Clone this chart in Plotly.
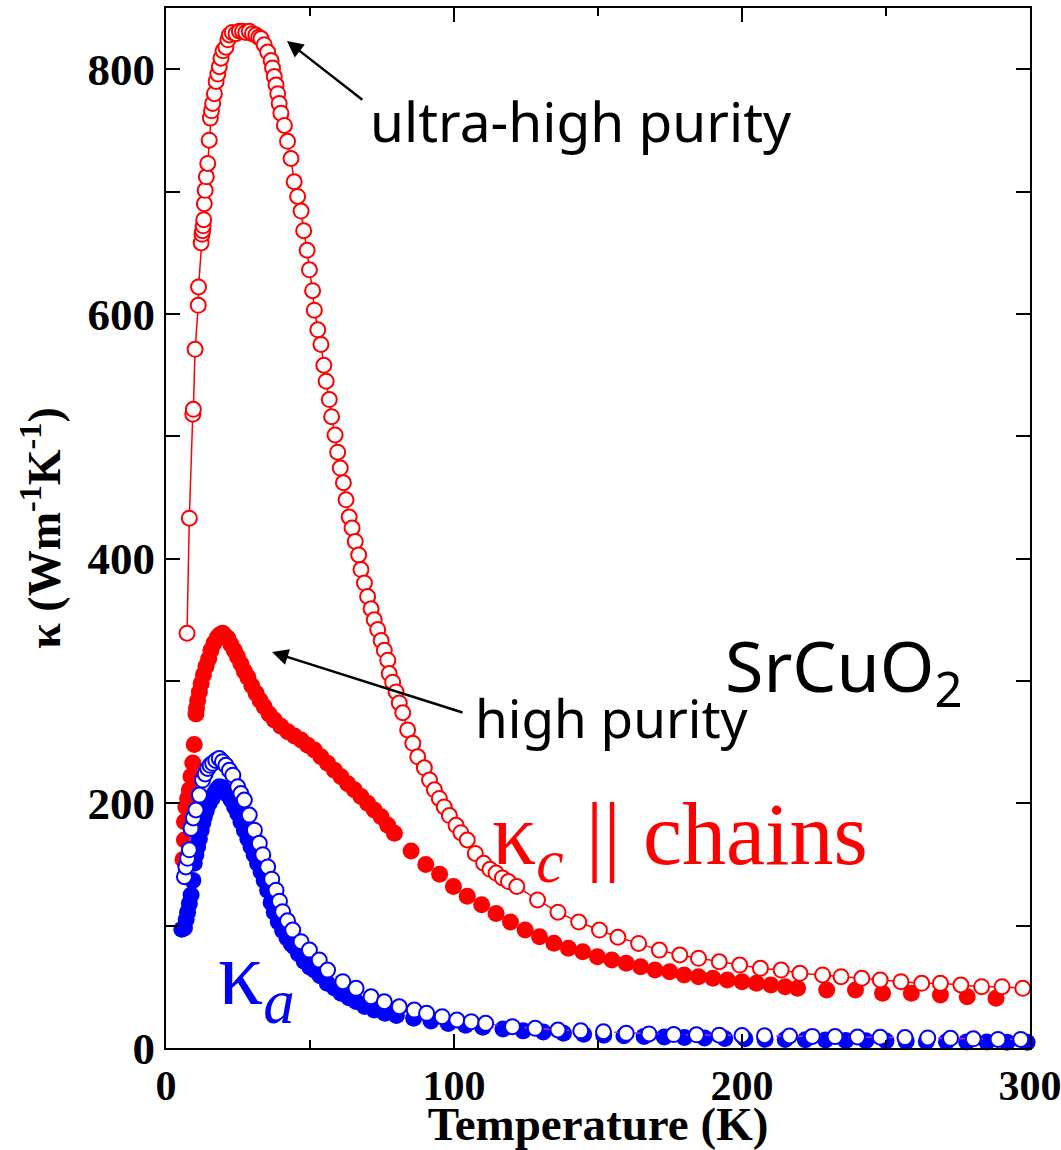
import plotly.graph_objects as go

# ---- ultra-high purity, kappa_c (open red, with line)
T_uhp = [7.3, 8.1, 9.3, 9.5, 10.1, 11.2, 11.3, 12.2, 12.5, 12.7, 12.9, 13.1, 13.3, 13.6, 14.0, 14.5,
         15.0, 15.4, 15.8, 16.2, 16.8, 17.4, 18.0, 18.5, 19.1, 19.8, 20.8, 21.5, 22.0, 23.0, 24.3,
         25.5, 26.6, 27.7, 28.9, 30.0, 31.2, 32.2, 33.0, 34.1, 35.3, 36.5, 37.0, 37.6, 38.2, 38.8,
         39.3, 39.9, 41.1, 42.2, 43.4, 44.5, 45.7, 46.9, 47.8, 49.0, 49.8, 50.9, 51.5, 52.7, 53.8,
         54.8, 55.6, 56.7, 57.5, 58.7, 59.6, 60.5, 61.6, 62.5, 63.6, 64.6, 65.7, 66.9, 67.7, 68.9,
         70.0, 71.2, 72.3, 73.5, 74.7, 75.8, 77.0, 77.5, 78.7, 79.9, 81.0, 82.2, 83.9, 85.7, 87.4,
         89.7, 91.5, 93.2, 94.9, 96.6, 98.4, 100.7, 102.4, 104.6, 107.4, 110.3, 112.5, 114.6, 116.8,
         118.9, 121.8, 129.0, 136.1, 143.3, 150.5, 156.9, 164.1, 171.3, 178.4, 184.9, 192.1, 199.2,
         206.4, 213.6, 220.1, 228.0, 234.4, 241.6, 248.0, 255.2, 262.4, 268.9, 276.0, 283.2, 290.3,
         297.5]
K_uhp = [339, 433, 518, 522, 571, 607, 622, 658, 665, 668, 672, 677, 690, 701, 712, 723,
         742, 760, 766, 772, 780, 790, 796, 802, 809, 815, 818, 824, 828, 830, 829,
         831, 831, 830, 831, 829, 828, 826, 825, 820, 814, 807, 801, 794, 787, 780,
         772, 764, 754, 741, 727, 708, 696, 684, 668, 652, 636, 619, 603, 587, 575,
         558, 545, 530, 516, 501, 487, 474, 462, 448, 434, 425, 414, 403, 391, 380,
         369, 359, 350, 342, 333, 325, 317, 306, 299, 291, 282, 274, 260, 249, 238,
         229, 219, 211, 204, 197, 190, 182, 176, 170, 159, 151, 146, 143, 139,
         136, 132, 121, 111, 103, 96.4, 90.5, 85.5, 80, 76, 73.3, 70.5, 67.8,
         65.1, 63.7, 61, 59.7, 58.3, 57, 55.6, 54.2, 52.9, 52.9, 51.5, 50.1, 50.1,
         48.8]

# ---- high purity, kappa_c (filled red)
T_hp = [5.9, 6.4, 6.4, 6.9, 7.5, 8.1, 8.7, 9.3, 9.8, 10.4, 10.6, 11.0, 11.6, 12.2, 13.0, 13.9,
        14.8, 15.6, 16.7, 17.9, 18.8, 19.7, 20.5, 21.4, 22.5, 23.7, 24.8, 26.0, 27.2, 28.4, 29.8,
        31.3, 32.7, 34.1, 35.8, 37.6, 39.9, 42.3, 44.6, 46.9, 49.2, 51.5, 53.8, 56.1, 58.5, 60.8,
        63.1, 65.4, 67.7, 70.0, 72.3, 74.7, 77.0, 79.3, 85.1, 90.2, 95.0, 99.8, 104.6, 109.6,
        114.6, 119.6, 124.7, 129.7, 134.7, 139.7, 144.7, 149.8, 154.8, 159.8, 164.8, 169.8, 174.9,
        179.9, 184.9, 189.9, 194.9, 200.0, 205.0, 210.0, 215.0, 219.3, 229.4, 239.4, 248.8, 258.8,
        268.9, 278.2, 288.2]
K_hp = [154, 170, 185, 197, 204, 211, 222, 233, 248, 273, 278, 284, 291, 298, 305, 312,
        318, 325, 331, 336, 338, 339, 337, 335, 330, 325, 320, 314, 308, 303, 296,
        290, 284, 279, 273, 268, 263, 258.5, 255, 251.7, 247.5, 243.5, 238, 232.7, 227, 221.7,
        216, 211, 205.5, 200, 194.5, 189, 182, 175.5, 161, 150, 142, 132, 124, 117,
        110, 103, 96.4, 91, 85.6, 81.5, 78.7, 74.6, 71.9, 69.2, 66.4, 63.7, 62.4,
        59.7, 58.3, 57, 55.6, 54.2, 52.9, 51.5, 50.1, 48.8, 47.4, 47.4, 44.7, 44.7,
        43.3, 41.9, 40.6]

# ---- kappa_a, filled blue
T_af = [5.5, 6.4, 7.0, 7.5, 8.1, 8.7, 9.3, 9.8, 10.4, 11.0, 11.6, 12.2, 12.8, 13.3, 14.0, 15.0,
        16.0, 16.8, 17.6, 18.5, 19.4, 20.2, 21.4, 22.6, 23.8, 24.9, 26.0, 27.2, 28.4, 29.5, 30.6,
        31.8, 33.0, 34.1, 35.3, 36.5, 37.6, 39.0, 40.5, 42.0, 43.5, 44.5, 46.0, 48.0, 50.0, 51.5,
        53.5, 56.0, 58.5, 60.8, 63.5, 66.0, 69.0, 72.3, 76.0, 80.0, 86.0, 92.0, 98.0, 104.0, 110.0,
        117.0, 124.0, 131.0, 138.0, 145.0, 152.0, 159.0, 166.0, 173.0, 180.0, 187.0, 194.0, 201.0,
        208.0, 215.0, 222.0, 229.0, 236.0, 243.0, 250.0, 257.0, 264.0, 271.0, 278.0, 285.0, 292.0,
        299.0]
K_af = [97, 98, 105, 111, 118, 125, 137, 151, 158, 164.5, 171, 178, 184, 189, 194, 200,
        204, 208, 211, 213.5, 213, 210.8, 207, 202.7, 197, 191.8, 185, 178, 171, 164.5, 158,
        151, 144, 137, 129, 119, 111, 103, 96, 90, 85, 82.8, 77, 71, 66, 63.7,
        59, 53, 49, 44.7, 41, 38, 34, 31, 28.5, 26.5, 24.3, 22, 20, 18.5, 17,
        15.5, 14, 13, 12, 11.2, 10.5, 10, 9.5, 9, 8.6, 8.2, 7.8, 7.5,
        7.2, 7, 6.7, 6.5, 6.2, 6, 5.8, 5.6, 5.4, 5.2, 5, 4.9, 4.8,
        4.7]

# ---- kappa_a, open blue
T_ao = [6.4, 6.9, 7.5, 8.1, 8.7, 9.5, 10.4, 11.6, 12.7, 13.6, 14.5, 15.3, 16.2, 17.3, 18.5, 19.6,
        20.8, 22.0, 23.2, 24.9, 26.0, 27.2, 28.9, 30.7, 32.4, 33.6, 35.3, 36.7, 38.2, 39.4, 40.5,
        42.2, 44.0, 46.9, 49.8, 53.2, 56.1, 61.4, 66.0, 71.2, 75.8, 81.0, 86.2, 90.5, 95.9, 101.0,
        106.0, 111.0, 120.3, 128.2, 136.1, 144.0, 151.9, 159.8, 167.7, 176.3, 184.2, 192.1, 200.0,
        207.8, 216.5, 224.4, 232.3, 240.1, 248.0, 256.6, 264.5, 272.4, 280.3, 288.9, 296.8]
K_ao = [140, 148, 155, 162, 179.5, 188, 194.5, 206.7, 219, 224, 228.5, 231, 232.7, 235, 236.7, 234,
        231, 227, 223, 213.5, 208, 202.7, 190.4, 178, 167.3, 158, 148, 138, 129, 120, 111.4,
        104, 96.4, 86.9, 80, 71.9, 63.7, 54.2, 48.8, 41.9, 37.8, 33.7, 31, 28.3, 25.6, 22.9,
        21.5, 20.2, 17.4, 16.1, 14.7, 14, 13.3, 12, 11.5, 11, 10.8, 10.5, 10.2,
        10, 9.8, 9.5, 9.3, 9, 8.8, 8.5, 8.2, 7.9, 7.5, 7, 7]

x_ticks = [0, 100, 200, 300]
y_ticks = [0, 200, 400, 600, 800]

RED = "rgb(255,0,0)"
BLUE = "rgb(0,0,255)"
SERIF = "Liberation Serif"
SANS = "Noto Sans"

fig = go.Figure()
fig.add_trace(go.Scatter(x=T_hp, y=K_hp, mode="markers", cliponaxis=False,
                         marker=dict(size=17, color=RED, line=dict(width=0)), name="high purity"))
fig.add_trace(go.Scatter(x=T_uhp, y=K_uhp, mode="lines+markers", cliponaxis=False,
                         line=dict(color=RED, width=1.5),
                         marker=dict(size=15, color="white", line=dict(color=RED, width=2)),
                         name="ultra-high purity"))
fig.add_trace(go.Scatter(x=T_af, y=K_af, mode="markers", cliponaxis=False,
                         marker=dict(size=17, color=BLUE, line=dict(width=0)), name="kappa_a filled"))
fig.add_trace(go.Scatter(x=T_ao, y=K_ao, mode="lines+markers", cliponaxis=False,
                         line=dict(color="rgb(190,50,210)", width=1.5, dash="dash"),
                         marker=dict(size=15, color="white", line=dict(color=BLUE, width=2)),
                         name="kappa_a open"))

anns = [
    dict(x=70.2, y=758, text="ultra-high purity", showarrow=False, xanchor="left", yanchor="middle",
         font=dict(family=SANS, size=55, color="black")),
    dict(x=106.6, y=270.5, text="high purity", showarrow=False, xanchor="left", yanchor="middle",
         font=dict(family=SANS, size=53, color="black")),
    dict(x=193.5, y=310, text="SrCuO<sub>2</sub>", showarrow=False, xanchor="left", yanchor="middle",
         font=dict(family=SANS, size=70, color="black")),
    dict(x=112.5, y=170, text="κ<sub><i>c</i></sub> || chains", showarrow=False, xanchor="left",
         yanchor="middle", font=dict(family=SERIF, size=88, color=RED)),
    dict(x=17.4, y=55, text="κ<sub><i>a</i></sub>", showarrow=False, xanchor="left",
         yanchor="middle", font=dict(family=SERIF, size=90, color=BLUE)),
    dict(x=42, y=823, ax=68.7, ay=774, xref="x", yref="y", axref="x", ayref="y", text="",
         showarrow=True, arrowhead=2, arrowsize=1.3, arrowwidth=2.5, arrowcolor="black"),
    dict(x=36.8, y=323.6, ax=103.5, ay=273.8, xref="x", yref="y", axref="x", ayref="y", text="",
         showarrow=True, arrowhead=2, arrowsize=1.3, arrowwidth=2.5, arrowcolor="black"),
]

fig.update_layout(
    width=1061, height=1150,
    margin=dict(l=166, r=31, t=8, b=102, autoexpand=False),
    paper_bgcolor="white", plot_bgcolor="white",
    showlegend=False,
    annotations=anns,
)
fig.update_xaxes(range=[0, 300], tickvals=x_ticks, ticktext=[str(v) for v in x_ticks],
                 ticklabeloverflow="allow", automargin=False,
                 ticks="inside", ticklen=14, tickwidth=1.5, tickcolor="black",
                 minor=dict(dtick=50, ticks="inside", ticklen=8, tickwidth=1.5, tickcolor="black"),
                 showline=True, linecolor="black", linewidth=2, mirror="ticks",
                 showgrid=False, zeroline=False,
                 tickfont=dict(family=SERIF, size=42, color="black", weight="bold"),
                 title=dict(text="Temperature (K)", standoff=8,
                            font=dict(family=SERIF, size=47, color="black", weight="bold")))
fig.update_yaxes(range=[0, 850], tickvals=y_ticks, ticktext=[str(v) for v in y_ticks],
                 automargin=False,
                 ticks="inside", ticklen=14, tickwidth=1.5, tickcolor="black",
                 minor=dict(dtick=100, ticks="inside", ticklen=14, tickwidth=1.5, tickcolor="black"),
                 showline=True, linecolor="black", linewidth=2, mirror="ticks",
                 showgrid=False, zeroline=False,
                 tickfont=dict(family=SERIF, size=45, color="black", weight="bold"),
                 title=dict(text="κ (Wm<sup>-1</sup>K<sup>-1</sup>)", standoff=12,
                            font=dict(family=SERIF, size=46, color="black", weight="bold")))

fig.write_html("out.html")
